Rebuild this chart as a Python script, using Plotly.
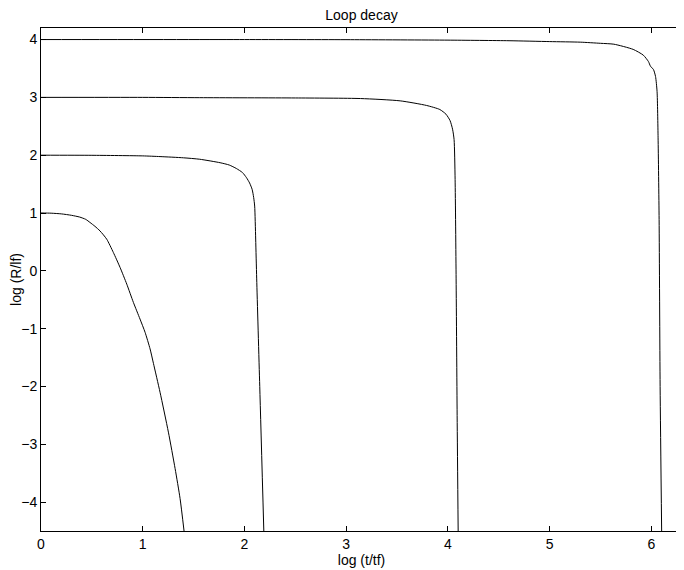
import plotly.graph_objects as go

# Curve data (log t/tf, log R/lf)
c1_x = [0.0, 0.1, 0.2, 0.3, 0.38, 0.44, 0.482, 0.53, 0.58, 0.646, 0.711, 0.777, 0.843, 0.908, 0.973, 1.023, 1.072, 1.105, 1.17, 1.252, 1.318, 1.367, 1.406]
c1_y = [1.0, 0.997, 0.985, 0.96, 0.93, 0.89, 0.836, 0.77, 0.69, 0.547, 0.318, 0.059, -0.23, -0.546, -0.834, -1.064, -1.35, -1.60, -2.10, -2.79, -3.42, -3.94, -4.5]

c2_x = [0.0, 0.5, 1.0, 1.17, 1.4, 1.56, 1.76, 1.85, 1.92, 1.98, 2.02, 2.05, 2.075, 2.09, 2.10, 2.11, 2.12, 2.15, 2.19]
c2_y = [2.0, 1.998, 1.988, 1.976, 1.955, 1.93, 1.87, 1.83, 1.77, 1.70, 1.61, 1.52, 1.41, 1.27, 1.12, 0.55, -0.14, -2.0, -4.5]

c3_x = [0.0, 1.0, 1.56, 2.5, 3.14, 3.53, 3.79, 3.92, 3.98, 4.02, 4.045, 4.06, 4.07, 4.08, 4.09, 4.10]
c3_y = [3.0, 3.0, 2.995, 2.99, 2.98, 2.94, 2.86, 2.79, 2.71, 2.60, 2.45, 2.27, 1.58, -0.14, -2.5, -4.5]

c4_x = [0.0, 2.0, 3.04, 4.0, 4.6, 5.0, 5.3, 5.5, 5.63, 5.82, 5.92, 5.97, 5.99, 6.02, 6.04, 6.055, 6.065, 6.075, 6.085, 6.10]
c4_y = [4.0, 4.0, 3.998, 3.99, 3.98, 3.965, 3.955, 3.935, 3.92, 3.83, 3.73, 3.62, 3.54, 3.48, 3.36, 3.1, 2.3, 0.89, -2.0, -4.5]

curves = [(c1_x, c1_y), (c2_x, c2_y), (c3_x, c3_y), (c4_x, c4_y)]

x_ticks = [0, 1, 2, 3, 4, 5, 6]
y_ticks = [-4, -3, -2, -1, 0, 1, 2, 3, 4]

FONT = "Liberation Sans, Arial, Helvetica, sans-serif"

fig = go.Figure()
for xs, ys in curves:
    fig.add_trace(go.Scatter(x=xs, y=ys, mode="lines",
                             line=dict(color="black", width=1, shape="spline", smoothing=0.6),
                             showlegend=False, hoverinfo="skip"))

axis_common = dict(showline=True, linecolor="black", linewidth=1, mirror="ticks",
                   ticks="inside", ticklen=5, tickcolor="black", tickwidth=1,
                   showgrid=False, zeroline=False, automargin=False,
                   tickfont=dict(family=FONT, size=14, color="black"))

# page body has an 8px margin, so the figure is 8px smaller than the window
W, H = 676, 562
fig.update_layout(
    width=W, height=H,
    margin=dict(l=33, r=2, t=20, b=39),
    paper_bgcolor="white", plot_bgcolor="white",
    font=dict(family=FONT, size=14, color="black"),
    title=dict(text="Loop decay", x=0.5, xref="paper", xanchor="center",
               y=1 - 7.5 / H, yref="container", yanchor="middle",
               font=dict(size=14, color="black")),
    xaxis=dict(range=[0, 6.3], tickvals=x_ticks,
               title=dict(text="log (t/tf)", standoff=0, font=dict(size=14)),
               **axis_common),
    yaxis=dict(range=[-4.5, 4.2], tickvals=y_ticks,
               title=dict(text="log (R/lf)", standoff=8, font=dict(size=14)),
               **axis_common),
)

fig.write_html("out.html")
